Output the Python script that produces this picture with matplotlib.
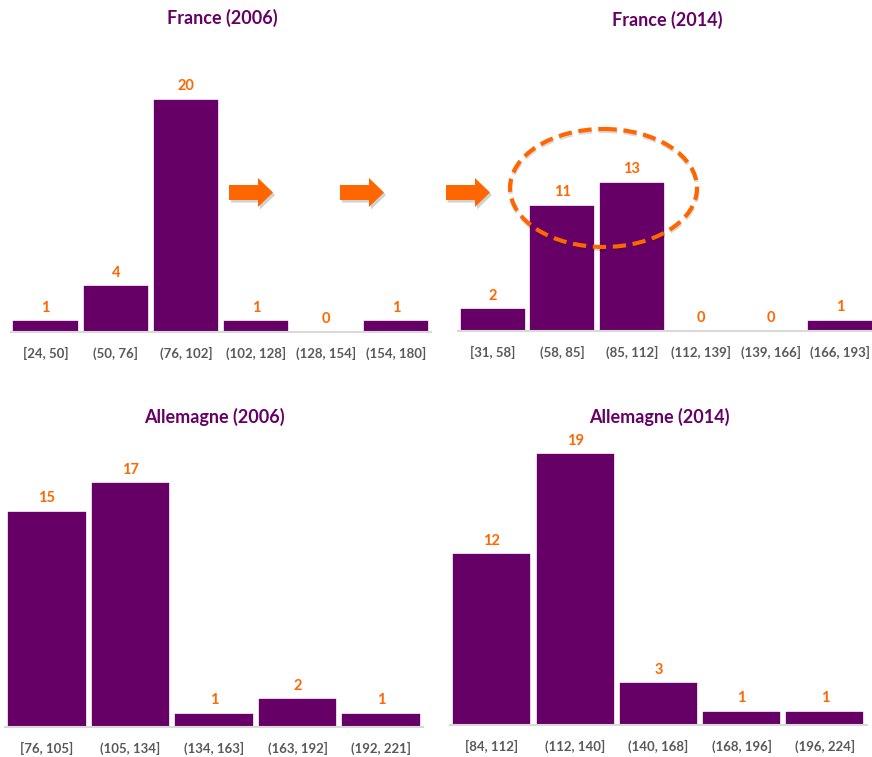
import numpy as np
import matplotlib
matplotlib.use("Agg")
import matplotlib.pyplot as plt
from matplotlib.patches import FancyArrow, Ellipse

# data
fr06_bins = ["[24, 50]", "(50, 76]", "(76, 102]", "(102, 128]", "(128, 154]", "(154, 180]"]
fr06_counts = [1, 4, 20, 1, 0, 1]

fr14_bins = ["[31, 58]", "(58, 85]", "(85, 112]", "(112, 139]", "(139, 166]", "(166, 193]"]
fr14_counts = [2, 11, 13, 0, 0, 1]

de06_bins = ["[76, 105]", "(105, 134]", "(134, 163]", "(163, 192]", "(192, 221]"]
de06_counts = [15, 17, 1, 2, 1]

de14_bins = ["[84, 112]", "(112, 140]", "(140, 168]", "(168, 196]", "(196, 224]"]
de14_counts = [12, 19, 3, 1, 1]

PURPLE = "#660066"
ORANGE = "#FF6600"
GREY = "#595959"
FONT = "Lato"

W, H = 872, 757
fig = plt.figure(figsize=(W / 100, H / 100), dpi=100)


def px_axes(left, right, base, top):
    # axes placed from pixel edges
    return fig.add_axes([left / W, 1 - base / H, (right - left) / W, (base - top) / H])


def hist_panel(ax, bins, counts, ymax):
    x = np.arange(len(counts))
    ax.bar(x, counts, width=0.95, color=PURPLE, edgecolor="white", linewidth=1.2, zorder=2)
    ax.set_xlim(-0.5, len(counts) - 0.5)
    ax.set_ylim(0, ymax)
    for i, c in enumerate(counts):
        ax.annotate(str(c), (i, c), xytext=(0, 4), textcoords="offset points",
                    ha="center", va="bottom", color=ORANGE, fontsize=10.5,
                    fontweight="bold", family=FONT)
    for s in ["top", "right", "left"]:
        ax.spines[s].set_visible(False)
    ax.spines["bottom"].set_color("#d9d9d9")
    ax.spines["bottom"].set_linewidth(1.5)
    ax.set_yticks([])
    ax.set_xticks(x)
    ax.set_xticklabels(bins, color=GREY, fontsize=9.5, fontweight="bold", family=FONT)
    ax.tick_params(axis="x", length=0, pad=11)
    ax.patch.set_alpha(0)


ax1 = px_axes(10.7, 431, 332, 60)
hist_panel(ax1, fr06_bins, fr06_counts, 272 / 11.65)

ax2 = px_axes(458, 875, 331, 60)
hist_panel(ax2, fr14_bins, fr14_counts, 271 / 11.46)

ax3 = px_axes(5.25, 422.75, 727, 440)
hist_panel(ax3, de06_bins, de06_counts, 287 / 14.4)

ax4 = px_axes(450.25, 866.5, 725, 440)
hist_panel(ax4, de14_bins, de14_counts, 285 / 14.3)

title_kw = dict(ha="center", va="center", color=PURPLE, fontsize=13,
                fontweight="bold", family=FONT)
fig.text(222 / W, 1 - 18 / H, "France (2006)", **title_kw)
fig.text(667 / W, 1 - 20 / H, "France (2014)", **title_kw)
fig.text(214 / W, 1 - 417 / H, "Allemagne (2006)", **title_kw)
fig.text(659 / W, 1 - 417 / H, "Allemagne (2014)", **title_kw)

# overlay for the arrows and the dashed ellipse, in pixel units
ov = fig.add_axes([0, 0, 1, 1])
ov.set_xlim(0, W)
ov.set_ylim(H, 0)
ov.axis("off")
ov.patch.set_alpha(0)

for x0 in [229, 340, 446]:
    # soft shadow then arrow
    ov.add_patch(FancyArrow(x0 + 2, 195, 29, 0, width=15, head_width=29, head_length=15,
                            length_includes_head=False, color="#000000", alpha=0.18, lw=0))
    ov.add_patch(FancyArrow(x0, 192.5, 29, 0, width=15, head_width=29, head_length=15,
                            length_includes_head=False, color=ORANGE, lw=0))

ov.add_patch(Ellipse((604, 190), 187, 118, fill=False, edgecolor="#000000", alpha=0.15,
                     lw=3, linestyle=(0, (3.2, 1.6))))
ov.add_patch(Ellipse((603.5, 188), 187, 118, fill=False, edgecolor=ORANGE,
                     lw=3, linestyle=(0, (3.2, 1.6))))

fig.savefig("out.png", dpi=100, facecolor="white")
